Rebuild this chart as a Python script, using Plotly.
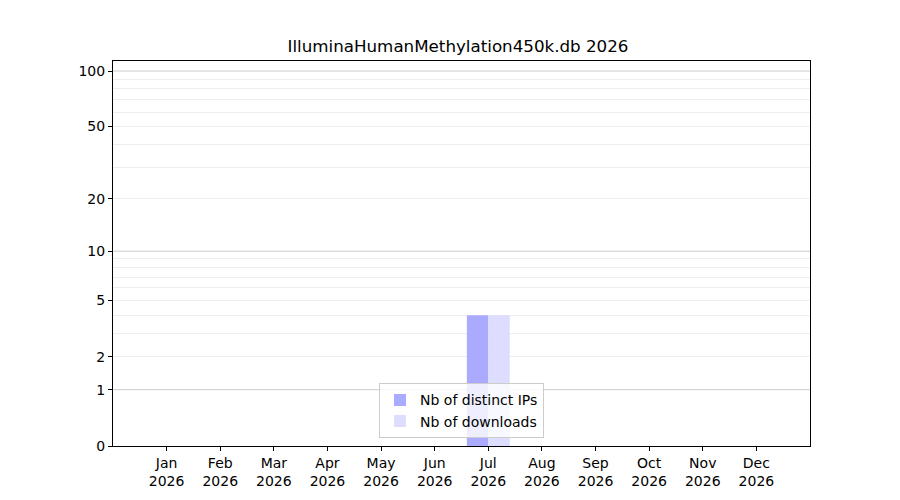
import numpy as np
import plotly.graph_objs as go

months = ["Jan", "Feb", "Mar", "Apr", "May", "Jun",
          "Jul", "Aug", "Sep", "Oct", "Nov", "Dec"]
year = "2026"
distinct_ips = [0, 0, 0, 0, 0, 0, 4, 0, 0, 0, 0, 0]
downloads = [0, 0, 0, 0, 0, 0, 4, 0, 0, 0, 0, 0]

tick_vals = [0, 1, 2, 5, 10, 20, 50, 100]
major_grid = [1, 10, 100]
minor_grid = [2, 3, 4, 5, 6, 7, 8, 9, 20, 30, 40, 50, 60, 70, 80, 90]


def tr(v):
    # y scale is log10(count + 1)
    return np.log10(np.array(v, dtype=float) + 1)


x = list(range(len(months)))
xlabels = [m + "<br>" + year for m in months]

trace1 = go.Bar(x=x, y=tr(distinct_ips), name="Nb of distinct IPs",
                marker=dict(color="#aaaaff", line=dict(width=0)))
trace2 = go.Bar(x=x, y=tr(downloads), name="Nb of downloads",
                marker=dict(color="#ddddff", line=dict(width=0)))

layout = go.Layout(
    width=900, height=500,
    paper_bgcolor="white", plot_bgcolor="white",
    font=dict(family="DejaVu Sans", size=14, color="black"),
    title=dict(text="IlluminaHumanMethylation450k.db " + year,
               x=0.5, xanchor="center", y=1 - 38 / 500, yanchor="middle",
               font=dict(size=16.7)),
    margin=dict(l=105, r=98, t=53, b=62),
    barmode="group", bargap=0.2, bargroupgap=0,
    showlegend=True,
    legend=dict(x=0.5, y=0.02, xanchor="center", yanchor="bottom",
                bgcolor="rgba(255,255,255,0.8)", bordercolor="#cccccc",
                borderwidth=1, font=dict(size=14)),
    xaxis=dict(range=[-1, 12], tickvals=x, ticktext=xlabels,
               showgrid=False, zeroline=False,
               showline=True, mirror=True, linecolor="black", linewidth=1,
               ticks="outside", ticklen=4, tickcolor="black"),
    yaxis=dict(range=[0, 2.058], tickvals=tr(tick_vals),
               ticktext=[str(t) for t in tick_vals],
               showgrid=False, zeroline=False,
               showline=True, mirror=True, linecolor="black", linewidth=1,
               ticks="outside", ticklen=4, tickcolor="black",
               minor=dict(tickvals=tr(minor_grid), showgrid=True,
                          gridcolor="#eeeeee", gridwidth=1, ticks="")),
)

fig = go.Figure(data=[trace1, trace2], layout=layout)

# major grid lines at 1, 10, 100
for v in major_grid:
    fig.add_hline(y=float(tr(v)), line=dict(color="#cccccc", width=1),
                  layer="below")

fig.write_html("out.html")
